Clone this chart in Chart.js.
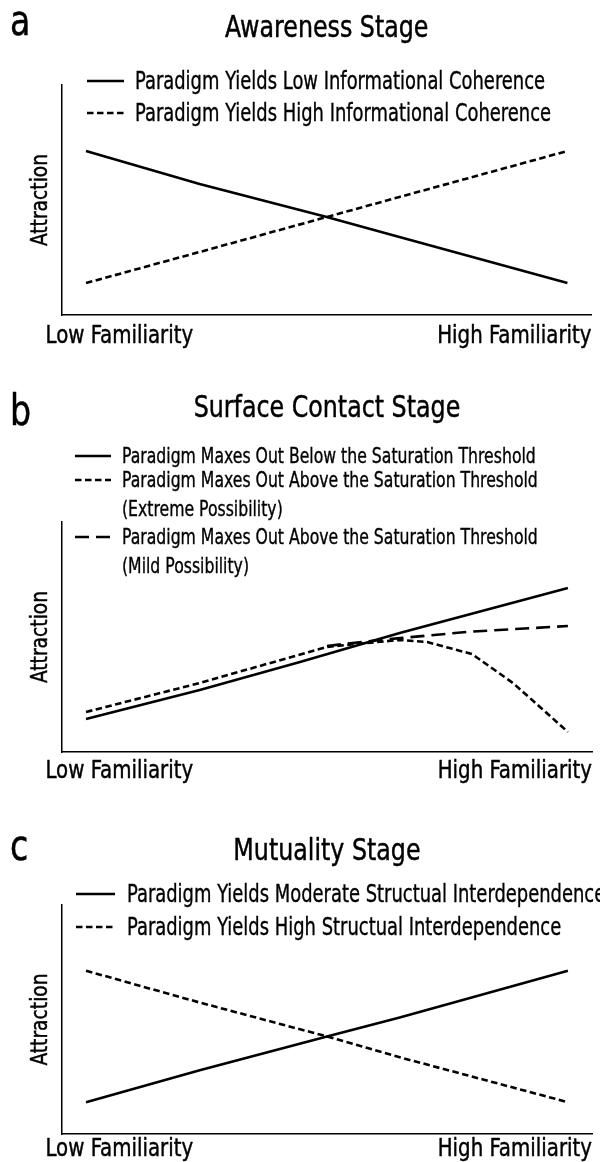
<!DOCTYPE html>
<html><head><meta charset="utf-8">
<script src="https://cdn.jsdelivr.net/npm/chart.js@4.4.1/dist/chart.umd.min.js"></script>
<style>
html,body{margin:0;padding:0;background:#fff;width:600px;height:1162px;overflow:hidden;}
body{position:relative;font-family:'DejaVu Sans Condensed','Liberation Sans Narrow',sans-serif;color:#000;}
.panel{position:absolute;left:0;width:600px;}
.panel canvas{position:absolute;left:0;top:0;}
.letter{position:absolute;left:10px;font-size:42px;line-height:42px;transform:scaleX(0.88);transform-origin:left center;-webkit-text-stroke:0.5px #000;}
.leg{position:absolute;white-space:nowrap;line-height:30px;height:30px;transform:scaleX(0.83);transform-origin:left center;-webkit-text-stroke:0.35px #000;}
svg.samples{position:absolute;left:0;top:0;overflow:visible;}
</style></head><body>
<script>
// ---------- data ----------
const xTickLabels = ['Low Familiarity', 'High Familiarity'];
const yAxisTitle = 'Attraction';
const panelLetters = ['a', 'b', 'c'];
const stageTitles = ['Awareness Stage', 'Surface Contact Stage', 'Mutuality Stage'];

// Panel a – Awareness Stage
const awarenessX = [0, 0.236, 0.5, 0.651, 1];
const awarenessLowCoherence = [7.13, 5.70, 4.26, 3.39, 1.39];
const awarenessHighCoherence = [1.39, 2.74, 4.26, 5.13, 7.13];
const awarenessLabels = [
  ['Paradigm Yields Low Informational Coherence'],
  ['Paradigm Yields High Informational Coherence']
];

// Panel b – Surface Contact Stage
const surfaceBelowX = [0, 0.236, 0.444, 0.651, 1];
const surfaceBelow = [1.43, 2.70, 3.91, 5.17, 7.13];
const surfaceExtremeX = [0, 0.236, 0.5, 0.583, 0.651, 0.708, 0.801, 0.886, 0.942, 1];
const surfaceExtreme = [1.74, 3.0, 4.57, 4.74, 4.87, 4.78, 4.26, 3.0, 1.96, 0.87];
const surfaceMildX = [0.5, 0.61, 0.79, 1];
const surfaceMild = [4.61, 4.87, 5.22, 5.48];
const surfaceLabels = [
  ['Paradigm Maxes Out Below the Saturation Threshold'],
  ['Paradigm Maxes Out Above the Saturation Threshold', '(Extreme Possibility)'],
  ['Paradigm Maxes Out Above the Saturation Threshold', '(Mild Possibility)']
];

// Panel c – Mutuality Stage
const mutualityX = [0, 0.236, 0.5, 0.651, 1];
const mutualityModerate = [1.39, 2.78, 4.26, 5.09, 7.13];
const mutualityHigh = [7.13, 5.74, 4.26, 3.35, 1.39];
const mutualityLabels = [
  ['Paradigm Yields Moderate Structual Interdependence'],
  ['Paradigm Yields High Structual Interdependence']
];

// ---------- styles / layout ----------
const FONT = "'DejaVu Sans Condensed','Liberation Sans Narrow',sans-serif";
const TEXT_SQUEEZE = 0.88;   // narrow the canvas text like a condensed face
const TEXT_WEIGHT = 0.45;    // slight stroke to thicken glyphs
const LOW_LABEL_OVERHANG = 0.031; // first x label starts a little left of the y axis (fraction of x range)
const SOLID = [];
const SHORT = [6.5, 3.5];
const LONG = [14, 7];

function pts(xs, ys) { return xs.map((x, i) => ({ x: x, y: ys[i] })); }

const panels = [
  { top: 0, height: 357, titleGap: 38, tickPad: 8.5, bottomPad: 0, letterTop: -0.5,
    legendFont: 24, sampleX1: 87, sampleX2: 124, textX: 135, lineStep: 29,
    legendY: [81, 113],
    series: [
      { x: awarenessX, y: awarenessLowCoherence, dash: SOLID, labels: awarenessLabels[0] },
      { x: awarenessX, y: awarenessHighCoherence, dash: SHORT, labels: awarenessLabels[1] }
    ] },
  { top: 380, height: 411, titleGap: 95, tickPad: 7, bottomPad: 0, letterTop: 9.5,
    legendFont: 21, sampleX1: 75, sampleX2: 111, textX: 122, lineStep: 29,
    legendY: [76, 100, 157],
    series: [
      { x: surfaceBelowX, y: surfaceBelow, dash: SOLID, labels: surfaceLabels[0] },
      { x: surfaceExtremeX, y: surfaceExtreme, dash: SHORT, labels: surfaceLabels[1] },
      { x: surfaceMildX, y: surfaceMild, dash: LONG, labels: surfaceLabels[2] }
    ] },
  { top: 823, height: 342, titleGap: 35, tickPad: 3, bottomPad: 0, letterTop: 1.5,
    legendFont: 24, sampleX1: 76, sampleX2: 115, textX: 127, lineStep: 29,
    legendY: [71, 104],
    series: [
      { x: mutualityX, y: mutualityModerate, dash: SOLID, labels: mutualityLabels[0] },
      { x: mutualityX, y: mutualityHigh, dash: SHORT, labels: mutualityLabels[1] }
    ] }
];

const SVGNS = 'http://www.w3.org/2000/svg';

panels.forEach((p, idx) => {
  const div = document.createElement('div');
  div.className = 'panel';
  div.style.top = p.top + 'px';
  div.style.height = p.height + 'px';
  document.body.appendChild(div);

  const canvas = document.createElement('canvas');
  canvas.width = 600; canvas.height = p.height;
  canvas.style.width = '600px'; canvas.style.height = p.height + 'px';
  div.appendChild(canvas);

  const ctx = canvas.getContext('2d');
  const rawFill = ctx.fillText;
  const rawStroke = ctx.strokeText;
  ctx.fillText = function (t, x, y, mw) {
    this.save();
    this.translate(x, y);
    this.scale(TEXT_SQUEEZE, 1);
    this.setLineDash([]);
    this.lineWidth = TEXT_WEIGHT;
    this.strokeStyle = this.fillStyle;
    this.lineJoin = 'round';
    if (mw === undefined || mw === null) { rawFill.call(this, t, 0, 0); rawStroke.call(this, t, 0, 0); }
    else { rawFill.call(this, t, 0, 0, mw / TEXT_SQUEEZE); rawStroke.call(this, t, 0, 0, mw / TEXT_SQUEEZE); }
    this.restore();
  };

  new Chart(ctx, {
    type: 'line',
    data: {
      datasets: p.series.map(s => ({
        label: s.labels.join(' '),
        data: pts(s.x, s.y),
        borderColor: '#000',
        borderWidth: 2.6,
        borderDash: s.dash,
        pointRadius: 0,
        tension: 0,
        fill: false
      }))
    },
    options: {
      responsive: false, animation: false, devicePixelRatio: 1,
      layout: { padding: { left: 26.8, right: 8, top: 0, bottom: p.bottomPad } },
      plugins: {
        legend: { display: false },
        tooltip: { enabled: false },
        title: {
          display: true, text: stageTitles[idx], fullSize: false, color: '#000',
          font: { family: FONT, size: 30, weight: 'normal', lineHeight: 1.2 },
          padding: { top: 11, bottom: p.titleGap }
        }
      },
      scales: {
        x: {
          type: 'linear', min: -0.05, max: 1.05,
          grid: { display: false, drawTicks: false },
          border: { display: true, color: '#000', width: 1.5 },
          afterBuildTicks: sc => {
            sc.ticks = [
              { value: sc.min - LOW_LABEL_OVERHANG * (sc.max - sc.min) },
              { value: sc.max }
            ];
          },
          ticks: {
            align: 'inner', maxRotation: 0, minRotation: 0, autoSkip: false,
            padding: p.tickPad, color: '#000',
            font: { family: FONT, size: 25, lineHeight: 1 },
            callback: (v, i) => xTickLabels[i]
          }
        },
        y: {
          min: 0, max: 10,
          grid: { display: false, drawTicks: false },
          border: { display: true, color: '#000', width: 1.5 },
          ticks: { display: false },
          title: {
            display: true, text: yAxisTitle, color: '#000',
            font: { family: FONT, size: 23.6, lineHeight: 1.2 },
            padding: { top: 0, bottom: 6.8 }
          }
        }
      }
    }
  });

  // panel letter
  const letter = document.createElement('div');
  letter.className = 'letter';
  letter.style.top = p.letterTop + 'px';
  letter.textContent = panelLetters[idx];
  div.appendChild(letter);

  // legend
  const svg = document.createElementNS(SVGNS, 'svg');
  svg.setAttribute('class', 'samples');
  svg.setAttribute('width', '600');
  svg.setAttribute('height', String(p.height));
  div.appendChild(svg);
  p.series.forEach((s, k) => {
    const y = p.legendY[k];
    const ln = document.createElementNS(SVGNS, 'line');
    ln.setAttribute('x1', p.sampleX1); ln.setAttribute('x2', p.sampleX2);
    ln.setAttribute('y1', y); ln.setAttribute('y2', y);
    ln.setAttribute('stroke', '#000'); ln.setAttribute('stroke-width', '2.6');
    if (s.dash.length) ln.setAttribute('stroke-dasharray', s.dash.join(' '));
    svg.appendChild(ln);
    s.labels.forEach((t, j) => {
      const d = document.createElement('div');
      d.className = 'leg';
      d.style.left = p.textX + 'px';
      d.style.top = (y + j * p.lineStep - 15) + 'px';
      d.style.fontSize = p.legendFont + 'px';
      d.textContent = t;
      div.appendChild(d);
    });
  });
});
</script>
</body></html>
